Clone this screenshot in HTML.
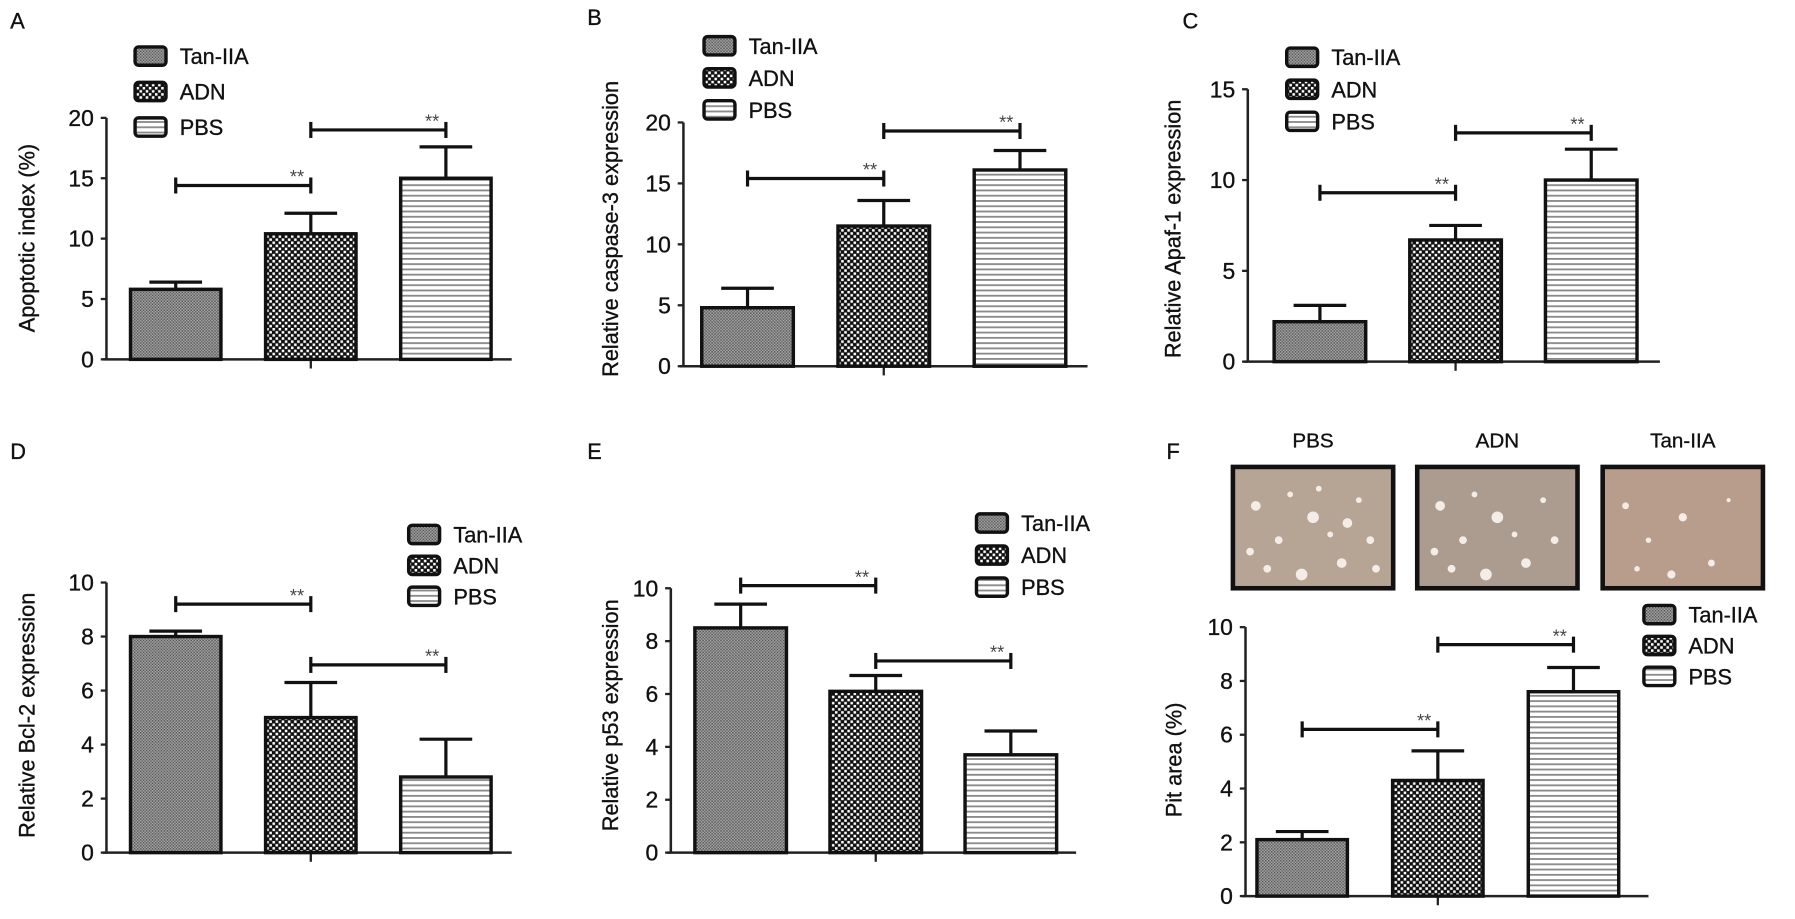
<!DOCTYPE html>
<html><head><meta charset="utf-8"><style>
html,body{margin:0;padding:0;background:#fff;}
svg{display:block;font-family:"Liberation Sans",Arial,sans-serif;}
</style></head><body>
<svg id="fig" width="1795" height="919" viewBox="0 0 1568 803" preserveAspectRatio="none" xmlns="http://www.w3.org/2000/svg">
<defs>
<pattern id="pTan" width="2.6" height="2.6" patternUnits="userSpaceOnUse">
<rect width="2.6" height="2.6" fill="#a8a8a8"/><rect width="1.3" height="1.3" fill="#555"/><rect x="1.3" y="1.3" width="1.3" height="1.3" fill="#666"/></pattern>
<pattern id="pAdn" width="5.4" height="5.4" patternUnits="userSpaceOnUse">
<rect width="5.4" height="5.4" fill="#111"/><rect x="0.4" y="0.4" width="2.2" height="2.2" fill="#fff"/><rect x="3.1" y="3.1" width="2.2" height="2.2" fill="#fff"/></pattern>
<pattern id="pPbs" width="6" height="4.6" patternUnits="userSpaceOnUse">
<rect width="6" height="4.6" fill="#fff"/><rect y="0" width="6" height="1.6" fill="#8a8a8a"/></pattern>
</defs>
<g id="root"></g>
</svg>
<script>
const categories = ["Tan-IIA","ADN","PBS"];
const meansA = [5.8, 10.4, 15.0];
const errsA  = [6.4, 12.1, 17.6];
const sigA   = [14.4, 19.0];
const meansB = [4.8, 11.5, 16.1];
const errsB  = [6.4, 13.6, 17.7];
const sigB   = [15.4, 19.3];
const meansC = [2.2, 6.7, 10.0];
const errsC  = [3.1, 7.5, 11.7];
const sigC   = [9.3, 12.6];
const meansD = [8.0, 5.0, 2.8];
const errsD  = [8.2, 6.3, 4.2];
const sigD   = [9.2, 6.95];
const meansE = [8.5, 6.1, 3.7];
const errsE  = [9.4, 6.7, 4.6];
const sigE   = [10.1, 7.25];
const meansF = [2.1, 4.3, 7.6];
const errsF  = [2.4, 5.4, 8.5];
const sigF   = [6.2, 9.35];
const ticksA = [0,5,10,15,20];
const ticksB = [0,5,10,15,20];
const ticksC = [0,5,10,15];
const ticksD = [0,2,4,6,8,10];
const ticksE = [0,2,4,6,8,10];
const ticksF = [0,2,4,6,8,10];
const photoLabels = ["PBS","ADN","Tan-IIA"];

const NS="http://www.w3.org/2000/svg";
const root=document.getElementById('root');
function mk(tag,attrs,parent,text){const e=document.createElementNS(NS,tag);for(const k in attrs)e.setAttribute(k,attrs[k]);if(text!==undefined)e.textContent=text;(parent||root).appendChild(e);return e;}
const fills=["url(#pTan)","url(#pAdn)","url(#pPbs)"];
const TXT={fill:'#111',stroke:'#111','stroke-width':0.3};

function T(attrs,parent,text){return mk('text',Object.assign({},TXT,attrs),parent,text);}

function panel(cfg){
  const g=mk('g',{});
  
  
  const ymax=cfg.ticks[cfg.ticks.length-1];
  const y=v=>cfg.y0-(cfg.y0-cfg.yTop)*v/ymax;
  const bx=i=>cfg.bar0+i*cfg.step;
  const lab=T({x:cfg.lx,y:cfg.ly,'font-size':19},g,cfg.id);
  
  
  const ax=mk('line',{x1:cfg.ax,x2:cfg.ax,y1:y(ymax),y2:cfg.y0,stroke:'#222','stroke-width':2.2},g);
  
  
  cfg.ticks.forEach(t=>{
    mk('line',{x1:cfg.ax-5,x2:cfg.ax,y1:y(t),y2:y(t),stroke:'#222','stroke-width':2},g);
    const tl=T({x:cfg.ax-11,y:y(t)+7,'font-size':20,'text-anchor':'end'},g,String(t));
    
    
  });
  const xa=mk('line',{x1:cfg.ax-3,x2:cfg.xEnd,y1:cfg.y0,y2:cfg.y0,stroke:'#222','stroke-width':2.2},g);
  
  
  const mid=bx(1)+cfg.bw/2;
  mk('line',{x1:mid,x2:mid,y1:cfg.y0,y2:cfg.y0+8,stroke:'#222','stroke-width':2},g);
  const tt=T({transform:`translate(${cfg.tx},${cfg.tcy}) rotate(-90)`,'font-size':19,'text-anchor':'middle'},g,cfg.title);
  
  
  cfg.means.forEach((m,i)=>{
    const cx=bx(i)+cfg.bw/2;
    const el=mk('line',{x1:cx,x2:cx,y1:y(cfg.errs[i]),y2:y(m),stroke:'#111','stroke-width':2.8},g);
    
    
    mk('line',{x1:cx-23,x2:cx+23,y1:y(cfg.errs[i]),y2:y(cfg.errs[i]),stroke:'#111','stroke-width':2.8},g);
    const r=mk('rect',{x:bx(i),y:y(m),width:cfg.bw,height:cfg.y0-y(m),fill:fills[i],stroke:'#111','stroke-width':3},g);
    
    
  });
  cfg.sig.forEach((s,k)=>{
    const xa1=bx(k)+cfg.bw/2, xa2=bx(k+1)+cfg.bw/2, yy=y(s);
    const sg=mk('g',{},g);
    
    
    mk('line',{x1:xa1,x2:xa2,y1:yy,y2:yy,stroke:'#111','stroke-width':2.8},sg);
    mk('line',{x1:xa1,x2:xa1,y1:yy-7,y2:yy+7,stroke:'#111','stroke-width':2.8},sg);
    mk('line',{x1:xa2,x2:xa2,y1:yy-7,y2:yy+7,stroke:'#111','stroke-width':2.8},sg);
    mk('text',{x:xa2-12,y:yy-2,'font-size':16,'text-anchor':'middle',fill:'#444'},sg,'**');
  });
  const lg=mk('g',{},g);
  
  
  categories.forEach((c,i)=>{
    const ry=cfg.legY+i*cfg.legStep;
    const e=mk('g',{},lg);
    
    
    mk('rect',{x:cfg.legX,y:ry-8,width:27,height:16,rx:3,fill:fills[i],stroke:'#111','stroke-width':3},e);
    T({x:cfg.legX+39,y:ry+7,'font-size':19},e,c);
  });
}

panel({id:'A',lx:9,ly:25,ax:93,y0:314,yTop:103,ticks:ticksA,bar0:114,step:118,bw:79,xEnd:447,tx:30,tcy:208,title:'Apoptotic index (%)',means:meansA,errs:errsA,sig:sigA,legX:118,legY:49,legStep:31});
panel({id:'B',lx:513,ly:22,ax:597,y0:320,yTop:107,ticks:ticksB,bar0:613,step:119,bw:80,xEnd:950,tx:540,tcy:200,title:'Relative caspase-3 expression',means:meansB,errs:errsB,sig:sigB,legX:615,legY:40,legStep:28});
panel({id:'C',lx:1033,ly:25,ax:1090,y0:316,yTop:78,ticks:ticksC,bar0:1113,step:118.5,bw:80,xEnd:1450,tx:1031,tcy:200,title:'Relative Apaf-1 expression',means:meansC,errs:errsC,sig:sigC,legX:1124,legY:50,legStep:28});
panel({id:'D',lx:9,ly:401,ax:93,y0:745,yTop:509,ticks:ticksD,bar0:114,step:118,bw:79,xEnd:447,tx:30,tcy:625,title:'Relative Bcl-2 expression',means:meansD,errs:errsD,sig:sigD,legX:357,legY:467,legStep:27});
panel({id:'E',lx:513,ly:401,ax:586,y0:745,yTop:514,ticks:ticksE,bar0:607,step:118,bw:80,xEnd:940,tx:540,tcy:625,title:'Relative p53 expression',means:meansE,errs:errsE,sig:sigE,legX:853,legY:457,legStep:28});
panel({id:'F',lx:1019,ly:401,ax:1088,y0:783,yTop:548,ticks:ticksF,bar0:1098,step:118.5,bw:79,xEnd:1440,tx:1032,tcy:664,title:'Pit area (%)',means:meansF,errs:errsF,sig:sigF,legX:1436,legY:537,legStep:27});

const photoX=[1077,1238,1400];
const speck=[[20,30,5],[40,60,4],[70,40,6],[95,80,5],[30,85,4],[110,25,3],[60,90,6],[120,60,4],[50,20,3],[85,55,3],[15,70,4],[100,45,5],[75,15,3],[125,85,4]];
photoLabels.forEach((l,i)=>{
  const g=mk('g',{});
  
  
  T({x:photoX[i]+70,y:391,'font-size':18,'text-anchor':'middle'},g,l);
  mk('rect',{x:photoX[i],y:408,width:140,height:106,fill:['#b6a494','#ab9c8f','#b89d8c'][i],stroke:'#111','stroke-width':4},g);
  const n=[14,11,7][i];
  for(let k=0;k<n;k++){const s=speck[k];mk('circle',{cx:photoX[i]+s[0],cy:412+s[1],r:s[2]*(i===2?0.6:0.85),fill:'#f4ece6'},g);}
});
</script>
</body></html>
